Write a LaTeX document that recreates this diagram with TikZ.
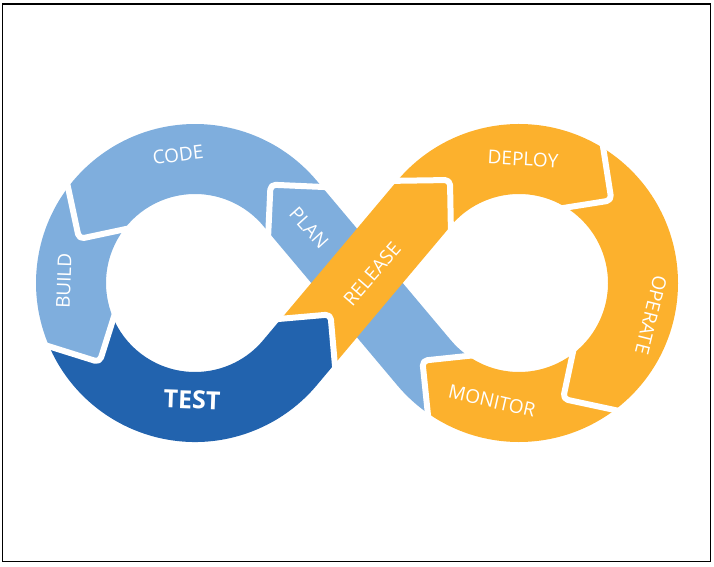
\documentclass[tikz,border=0pt]{standalone}
\usepackage{fontspec}
\setmainfont{Open Sans}
\usetikzlibrary{calc}
\definecolor{lblue}{HTML}{7FAEDD}
\definecolor{dblue}{HTML}{2263AE}
\definecolor{orng}{HTML}{FCB12D}
\begin{document}
\begin{tikzpicture}[x=1pt,y=1pt,
  gapline/.style={draw=white,line width=6pt,rounded corners=5pt,line join=round},
  lbl/.style={text=white,font=\fontsize{19}{19}\selectfont,inner sep=0pt}]
\useasboundingbox (0,0) rectangle (714,566);
\draw[line width=1.2pt] (2.5,4.5) rectangle (710.5,562);
% centres
\coordinate (L) at (195,283);
\coordinate (R) at (519,283);
% tangent points (l = left of flow, r = right of flow)
\coordinate (T1l) at ($(L)+(320:89)$);
\coordinate (T1r) at ($(L)+(320:159)$);
\coordinate (T4l) at ($(L)+(40:89)$);
\coordinate (T4r) at ($(L)+(40:159)$);
\coordinate (T2l) at ($(R)+(140:159)$);
\coordinate (T2r) at ($(R)+(140:89)$);
\coordinate (T3l) at ($(R)+(220:159)$);
\coordinate (T3r) at ($(R)+(220:89)$);
% boundaries
\coordinate (B1l) at ($(T1l)+(50:28)$);
\coordinate (B1r) at ($(T1r)+(50:28)$);
\coordinate (B1a) at ($(L)+(320:124)+(50:63)$);
\coordinate (B2l) at (T2l);
\coordinate (B2r) at (T2r);
\coordinate (B2a) at ($(R)+(123.83:124)$);
\coordinate (B3l) at ($(R)+(58:159)$);
\coordinate (B3r) at ($(R)+(58:89)$);
\coordinate (B3a) at ($(R)+(41.8:124)$);
\coordinate (B4l) at ($(R)+(-53:159)$);
\coordinate (B4r) at ($(R)+(-53:89)$);
\coordinate (B4a) at ($(R)+(-69.2:124)$);
\coordinate (B5l) at ($(R)+(235:159)$);
\coordinate (B5r) at ($(R)+(235:89)$);
\coordinate (B5a) at ($(R)+(218.8:124)$);
\coordinate (B6l) at ($(T4l)+(310:8)$);
\coordinate (B6r) at ($(T4r)+(310:8)$);
\coordinate (B6a) at ($(L)+(52.48:124)$);
\coordinate (B7l) at ($(L)+(143:89)$);
\coordinate (B7r) at ($(L)+(143:159)$);
\coordinate (B7a) at ($(L)+(159.2:124)$);
\coordinate (B8l) at ($(L)+(203.5:89)$);
\coordinate (B8r) at ($(L)+(203.5:159)$);
\coordinate (B8a) at ($(L)+(219.7:124)$);
% pieces
\fill[lblue] (B5l) arc[start angle=235,end angle=220,radius=159pt] -- (B6l) -- (B6a) -- (B6r) -- (T3r)
  arc[start angle=220,end angle=235,radius=89pt] -- (B5a) -- cycle;
\fill[lblue] (B6r) -- (T4r) arc[start angle=40,end angle=143,radius=159pt] -- (B7a) -- (B7l)
  arc[start angle=143,end angle=40,radius=89pt] -- (B6l) -- (B6a) -- cycle;
\fill[lblue] (B7r) arc[start angle=143,end angle=203.5,radius=159pt] -- (B8a) -- (B8l)
  arc[start angle=203.5,end angle=143,radius=89pt] -- (B7a) -- cycle;
\fill[dblue] (B8r) arc[start angle=203.5,end angle=320,radius=159pt] -- (B1r) -- (B1a) -- (B1l) -- (T1l)
  arc[start angle=320,end angle=203.5,radius=89pt] -- (B8a) -- cycle;
\fill[orng] (B1l) -- (B2l) -- (B2a) -- (B2r) -- (B1r) -- (B1a) -- cycle;
\fill[orng] (B2l) arc[start angle=140,end angle=58,radius=159pt] -- (B3a) -- (B3r)
  arc[start angle=58,end angle=140,radius=89pt] -- (B2a) -- cycle;
\fill[orng] (B3l) arc[start angle=58,end angle=-53,radius=159pt] -- (B4a) -- (B4r)
  arc[start angle=-53,end angle=58,radius=89pt] -- (B3a) -- cycle;
\fill[orng] (B4l) arc[start angle=-53,end angle=-125,radius=159pt] -- (B5a) -- (B5r)
  arc[start angle=-125,end angle=-53,radius=89pt] -- (B4a) -- cycle;
% gaps
\foreach \k in {1,...,8}{
  \draw[gapline] ($(B\k a)!1.15!(B\k l)$) -- (B\k a) -- ($(B\k a)!1.15!(B\k r)$);
}
% labels
\node[lbl,rotate=7] (code) at (178,411) {CODE};
\node[lbl,rotate=88] (build) at (64,285) {BUILD};
\node[lbl,rotate=-2,font=\fontsize{25}{25}\selectfont\bfseries] (test) at (192,166) {TEST};
\node[lbl,rotate=-48] (plan) at (309,338) {PLAN};
\node[lbl,rotate=49] (release) at (372,292) {RELEASE};
\node[lbl,rotate=-3] (deploy) at (523,407) {DEPLOY};
\node[lbl,rotate=-104] (operate) at (651,251) {OPERATE};
\node[lbl,rotate=-13] (monitor) at (492,165) {MONITOR};
\end{tikzpicture}
\end{document}
